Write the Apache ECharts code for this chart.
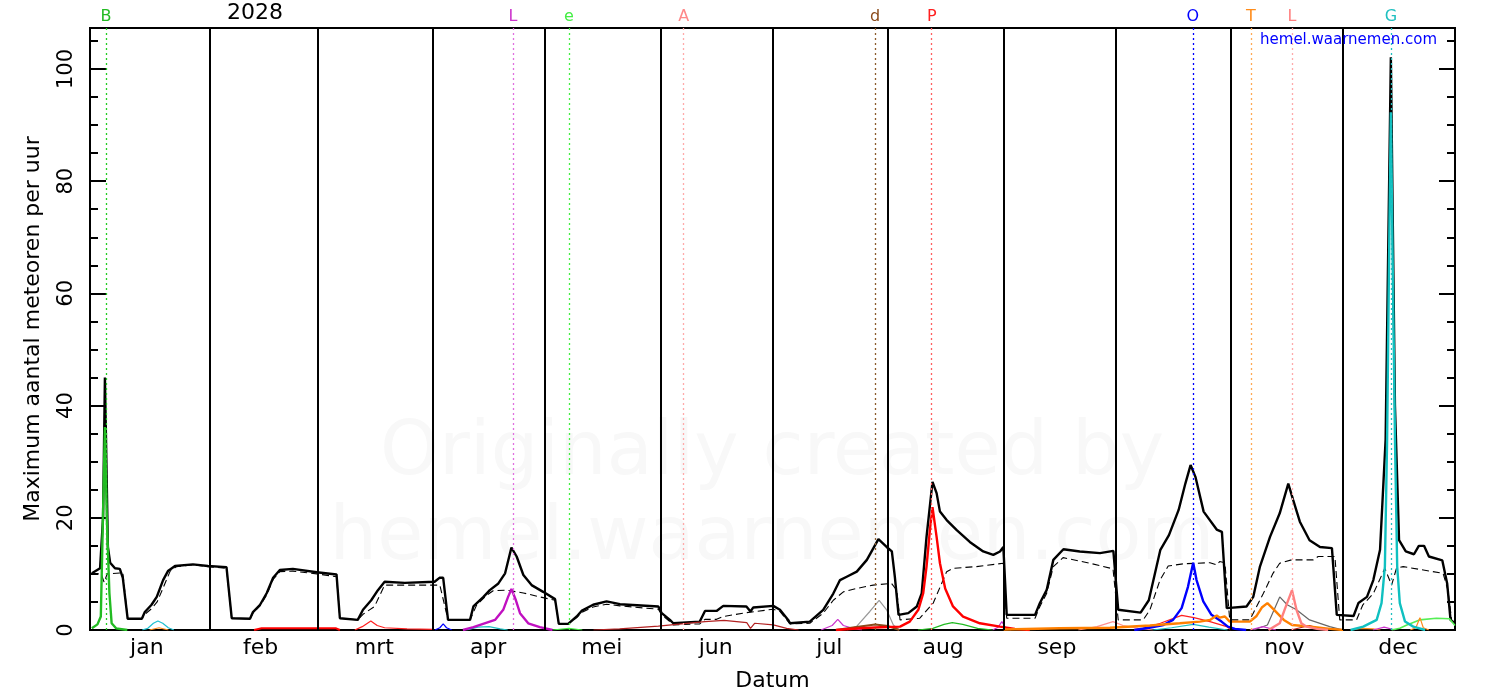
<!DOCTYPE html>
<html><head><meta charset="utf-8">
<script src="https://cdn.jsdelivr.net/npm/echarts/dist/echarts.min.js"></script>
<style>html,body{margin:0;padding:0;background:#fff}#c{width:1500px;height:700px}</style>
</head><body><div id="c"></div>
<script>
// ---------- DATA ----------
const yearLabel = '2028';
const months = ['jan','feb','mrt','apr','mei','jun','jul','aug','sep','okt','nov','dec'];
const monthStartDays = [32,61,92,122,153,183,214,245,275,306,336];
const markerLetters = ['B','L','e','A','d','P','O','T','L','G'];
const markerDays = [4.3,113.4,128.4,159.2,210.5,225.7,295.7,311.3,322.3,348.8];

// total maximum rate (solid black) [dayOfYear, rate]
const totalRate = [[0.5,10.1],[2.7,11],[3.5,20],[4,45],[4.8,14.8],[5.4,12],[6.7,11],[8,10.9],[8.8,9.3],[10.1,2.0],[13.9,2.0],[14.7,3.2],[16.5,4.5],[17.9,5.9],[19.6,8.9],[20.9,10.5],[22.8,11.4],[27.6,11.7],[31.6,11.4],[36.6,11.2],[38,2.1],[42.9,2.0],[43.7,3.2],[45.6,4.5],[47.4,6.6],[49.1,9.3],[50.9,10.7],[54.4,10.9],[60.8,10.3],[66.1,9.9],[67,2.1],[71.8,1.8],[73.2,3.6],[75.4,5.3],[77.2,7.1],[79,8.6],[84.4,8.4],[92.4,8.6],[93.7,9.3],[94.7,9.3],[96,1.8],[101.9,1.8],[102.8,4.2],[105.5,5.9],[107.2,7.1],[109.5,8.3],[111.3,10.1],[113,14.7],[114.4,13.1],[116.2,9.8],[118.4,8.0],[121.5,6.8],[124.7,5.5],[125.7,1.1],[128.2,1.1],[130.5,2.4],[131.8,3.4],[134.9,4.5],[138.5,5.1],[142.1,4.6],[152.4,4.2],[153.3,3.0],[155.5,1.8],[156.4,1.2],[163.5,1.5],[164.9,3.4],[168,3.4],[169.8,4.3],[176,4.2],[177.1,3.3],[177.8,4.0],[183.2,4.3],[185,3.6],[187.2,1.8],[187.7,1.2],[193,1.5],[196.6,3.6],[199.3,6.5],[201.1,8.9],[202.9,9.5],[205.6,10.4],[208.3,12.5],[211.4,16.2],[213.6,14.8],[215,14.0],[215.8,9.5],[216.8,2.7],[219.4,3.0],[221.7,4.2],[223,6.5],[224.3,16.6],[225.9,26.4],[227,24.4],[227.9,21.1],[229.7,19.6],[232.4,17.8],[235.9,15.7],[239.5,14.0],[242.2,13.4],[244,14.0],[244.9,14.8],[245.8,2.7],[253.4,2.7],[254.7,4.8],[256.5,7.1],[258.3,12.5],[261,14.4],[265.4,14.0],[270.8,13.7],[274.4,14.1],[275.7,3.6],[281.7,3.1],[283.9,5.3],[287,14.3],[289.3,16.9],[291.9,21.4],[293.7,26.1],[295.1,29.4],[296.4,27.3],[298.6,21.1],[302.1,17.9],[303.5,17.5],[304.8,3.9],[310.1,4.2],[311.9,5.9],[313.7,11.3],[316.4,16.6],[319,20.8],[321.3,26.1],[322.6,23.2],[324.4,19.3],[327,16.0],[329.8,14.8],[333,14.6],[334.3,2.7],[338.8,2.5],[340.1,4.8],[342.4,5.9],[344.1,8.9],[345.9,14.3],[347.4,34],[348.8,102.1],[349.9,40],[351,16.0],[352.8,14.0],[355,13.5],[356.3,15.0],[357.7,15.0],[359,13.1],[362.6,12.4],[363.9,8.3],[364.8,1.8],[366,1.2]];

// dashed black curve
const baseRate = [[0.5,10.0],[3,10.0],[3.8,8.5],[4.6,10.0],[8.8,10.2],[10.1,2.0],[13.9,2.0],[14.7,2.8],[16.5,3.8],[18,5.0],[19.6,7.5],[21.5,10.5],[23.2,11.3],[27.6,11.6],[31.6,11.3],[36.6,11.0],[38,2.1],[42.9,2.0],[43.7,3.0],[45.6,4.3],[47.4,6.3],[49.1,9.0],[50.9,10.4],[54.4,10.5],[60.8,10.0],[66.1,9.5],[67,2.1],[71.8,1.8],[73.2,2.8],[76.3,4.2],[79,8.0],[92.4,8.0],[93.8,8.0],[96,1.8],[101.9,1.8],[103.7,4.5],[106.4,6.2],[108.1,7.0],[111.7,7.1],[116.2,6.6],[120.6,5.9],[124.7,5.3],[125.7,1.1],[128.2,1.1],[130.5,2.2],[131.8,3.1],[134.9,4.1],[138.5,4.6],[142.1,4.3],[152.4,3.7],[153.3,2.7],[155.5,1.5],[156.4,0.9],[163.5,1.1],[164.9,1.9],[168,1.9],[169.8,2.4],[176.1,3.1],[183.2,3.7],[185,3.3],[187.2,1.5],[187.7,1.1],[193,1.2],[196.6,3.0],[199.3,5.3],[202,6.8],[205.5,7.4],[210,8.0],[214.9,8.3],[216.3,7.1],[217.2,1.8],[222.5,2.1],[226.1,4.8],[229.7,10.4],[231.4,11.0],[237.7,11.3],[244.9,11.9],[245.8,2.1],[253.4,2.1],[254.7,4.2],[256.5,6.5],[258.3,11.3],[260.9,12.9],[268.1,11.9],[274.3,10.9],[275.7,1.8],[282.4,1.8],[284.2,3.6],[286.9,8.9],[289.1,11.4],[293.1,11.8],[300.3,12.0],[302.1,11.6],[302.9,12.2],[304.3,12.0],[305.6,1.8],[311.0,1.8],[311.9,3.0],[314.6,6.5],[317.2,10.1],[319.0,11.9],[322.2,12.5],[328.0,12.5],[329.3,13.1],[333.8,13.1],[335.1,1.8],[339.6,1.8],[341.3,4.5],[344.1,6.5],[347.2,11.0],[348.1,9.5],[349.0,8.0],[350.3,11.0],[352.1,11.3],[362.8,10.1],[364.1,7.1],[365.1,1.8]];

// individual showers
const quadrantids = [[0.5,0.3],[2,1.0],[2.9,2.4],[3.6,24],[4.0,36.2],[4.5,20],[5.2,6.6],[5.8,1.2],[7,0.3],[10,0]];
const janCyan = [[14,0],[15.5,0.3],[17,1.2],[18.2,1.6],[19.5,1.2],[21,0.4],[22.5,0]];
const janOrange = [[16,0],[18.5,0.4],[21,0]];
const febRed = [[44,0],[46,0.3],[66,0.3],[67,0]];
const marRed = [[71,0],[73,0.6],[75.3,1.6],[77,0.8],[79,0.4],[85,0.2],[92,0.1]];
const aprBlue = [[92.5,0],[93.8,0.4],[94.7,1.1],[95.6,0.4],[97,0]];
const aprCyan = [[101,0],[104,0.5],[107,0.6],[110,0.2],[112,0]];
const lyrids = [[100,0],[102.8,0.5],[108.6,1.8],[110.8,3.6],[112.1,5.9],[113.0,7.3],[114.2,5.3],[115.3,3.0],[117.5,1.2],[120.6,0.5],[124,0]];
const etaAquariids = [[124,0],[128.4,0.3],[132,0]];
const ariDarkRed = [[135,0],[142,0.2],[152.4,0.7],[164.9,1.5],[170,1.7],[176.1,1.3],[177.1,0.3],[178.2,1.2],[183.2,0.9],[186.8,0.3],[190,0]];
const julMagenta = [[196,0],[199,0.8],[200.5,1.9],[202,0.8],[205,0.2],[207,0]];
const capricornids = [[203,0],[205.5,0.6],[209.1,3.3],[211.6,5.3],[213.6,3.6],[215.4,0.9],[217,0]];
const deltaAquariids = [[200,0],[205,0.5],[210.5,1.0],[214,0.7],[217,0]];
const perseids = [[200,0],[206.4,0.3],[212,0.5],[217.2,0.6],[219.8,1.5],[222.1,3.6],[223.4,6.5],[224.3,11.3],[225.2,17.8],[225.9,21.9],[227.0,16.6],[227.9,11.9],[229.3,7.4],[231.4,4.2],[234.1,2.4],[238.6,1.2],[244.0,0.6],[248,0.2],[252,0]];
const kappaCygnids = [[222,0],[226,0.3],[229,1.0],[231.2,1.3],[234,1.0],[238,0.3],[242,0]];
const sepMagenta = [[242,0],[243.5,0.5],[244.5,1.5],[245.5,0.4],[247,0]];
const octSalmon = [[265,0],[270,0.6],[274.3,1.5],[277,0.8],[281,0.3],[285,0]];
const octRed = [[280,0],[282.4,0.3],[287,1.2],[292.7,2.6],[296,2.2],[300.3,1.5],[304.8,0.6],[306,0]];
const orionids = [[280,0],[284,0.4],[287.8,0.9],[290.4,1.8],[292.7,3.9],[294.4,7.7],[295.8,12.0],[296.7,8.9],[298.5,5.1],[300.7,2.7],[303.4,1.5],[305.1,0.6],[307,0.2],[310,0]];
const octCyan = [[285,0],[290,0.4],[295.8,1.0],[300,0.5],[305,0]];
const taurids = [[245,0.1],[260,0.3],[273.5,0.4],[284.2,0.8],[292.2,1.2],[297.6,1.5],[300.3,1.8],[302.1,2.6],[302.9,2.2],[304.3,2.4],[305.6,1.5],[311.0,1.5],[312.8,2.5],[314.2,4.0],[315.7,4.8],[317.5,3.6],[320.1,1.8],[322.3,0.9],[327.3,0.6],[332.6,0.2],[336,0]];
const novGray = [[312,0],[315.7,0.9],[317.5,3.6],[319.0,5.9],[321,4.5],[323.5,3.6],[327.0,1.8],[332.4,0.6],[336,0]];
const leonids = [[316,0],[319,1.2],[320.3,3.6],[322.3,7.1],[323.5,3.6],[324.8,1.2],[326.2,0.6],[329,0.2],[332,0]];
const novMagenta = [[311,0],[314.5,0.6],[318,0]];
const novDarkRed = [[322,0],[327,0.8],[331,0]];
const geminids = [[338,0],[341.4,0.6],[345.0,1.8],[346.3,4.8],[347.2,11.3],[347.8,34],[348.3,65],[348.8,92.3],[349.3,65],[349.9,34],[350.5,11.3],[351.2,4.8],[352.6,1.5],[354.8,0.6],[358,0]];
const decGreen = [[349,0],[351.2,0.3],[353.1,0.9],[356.5,1.8],[361,2.1],[364.5,2.0],[366,0.8]];
const ursids = [[354,0],[355.5,0.4],[356.6,2.2],[357.5,0.4],[359,0]];
const decOrange = [[338,0],[341,0.3],[344,0.2],[346,0]];
const decMagenta = [[344,0],[347,0.5],[350,0]];

// ---------- STYLE ----------
const FONT = 'DejaVu Sans';
const markerColors = ['#22bb22','#cc33cc','#44ee44','#ff8888','#8b4a1a','#ff2020','#0000ff','#ff8c1a','#ff8080','#20c0c0'];
const markerLineColors = ['#22cc22','#e070e0','#44ee44','#ffaaaa','#8b5a2b','#ff6060','#0000ff','#ffaa55','#ffaaaa','#20c0c0'];

function ln(name, data, color, width, extra) {
  return Object.assign({
    name, type: 'line', xAxisIndex: 0, yAxisIndex: 0, data,
    showSymbol: false, symbol: 'none', silent: true, animation: false,
    lineStyle: { color, width }, itemStyle: { color }, z: 3
  }, extra || {});
}

const markData = [];
monthStartDays.forEach(d => markData.push({
  xAxis: d, lineStyle: { color: '#000', width: 2, type: 'solid' }, label: { show: false }
}));
markerDays.forEach((d, i) => markData.push({
  xAxis: d,
  lineStyle: { color: markerLineColors[i], width: 1.3, type: [2, 3] },
  label: { show: true, position: 'end', formatter: markerLetters[i], color: markerColors[i], fontSize: 16, fontFamily: FONT, distance: 3 }
}));

const series = [
  { type: 'line', data: [], silent: true, animation: false, z: 1,
    markLine: { symbol: ['none','none'], silent: true, animation: false,
      label: { fontSize: 16, fontFamily: FONT }, data: markData } },
  ln('totaal', totalRate, '#000', 2.4, { z: 2 }),
  ln('achtergrond', baseRate, '#000', 1, { z: 2, lineStyle: { color: '#000', width: 1.1, type: [7, 4] } }),
  ln('febRed', febRed, '#ff0000', 2),
  ln('marRed', marRed, '#ff2020', 1.2),
  ln('janOrange', janOrange, '#ff8c1a', 1.2),
  ln('janCyan', janCyan, '#20c0d0', 1.2),
  ln('aprBlue', aprBlue, '#0000ff', 1.2),
  ln('aprCyan', aprCyan, '#20c0c0', 1.2),
  ln('etaAquariids', etaAquariids, '#44ee44', 1.2),
  ln('ariDarkRed', ariDarkRed, '#b22222', 1.2),
  ln('julMagenta', julMagenta, '#cc33cc', 1.2),
  ln('capricornids', capricornids, '#999999', 1.2),
  ln('deltaAquariids', deltaAquariids, '#8b4a1a', 2),
  ln('kappaCygnids', kappaCygnids, '#22bb22', 1.2),
  ln('sepMagenta', sepMagenta, '#cc33cc', 1.2),
  ln('octSalmon', octSalmon, '#ff9090', 1.2),
  ln('octRed', octRed, '#ff2020', 1.2),
  ln('octCyan', octCyan, '#20c0c0', 1.2),
  ln('novGray', novGray, '#666666', 1.2),
  ln('novMagenta', novMagenta, '#cc33cc', 1.2),
  ln('novDarkRed', novDarkRed, '#b22222', 1.2),
  ln('decOrange', decOrange, '#ff8c1a', 1.2),
  ln('decMagenta', decMagenta, '#cc33cc', 1.2),
  ln('decGreen', decGreen, '#55ee55', 1.6),
  ln('ursids', ursids, '#ff8c1a', 1.2),
  ln('quadrantids', quadrantids, '#22bb22', 2.4),
  ln('lyrids', lyrids, '#c010c0', 2.4),
  ln('perseids', perseids, '#ff0000', 2.4),
  ln('orionids', orionids, '#0000ff', 2.4),
  ln('taurids', taurids, '#ff8000', 2.4),
  ln('leonids', leonids, '#ff8080', 2.4),
  ln('geminids', geminids, '#10c0c0', 2.4)
];

const Y_MAX = 107.3;
function yAx(pos, interval, len, withLabel) {
  return {
    type: 'value', min: 0, max: Y_MAX, interval, position: pos,
    axisLine: { show: false },
    axisTick: { show: true, inside: true, length: len, lineStyle: { color: '#000', width: 2 } },
    splitLine: { show: false },
    axisLabel: withLabel ? {
      show: true, rotate: 90, fontSize: 21, color: '#000', fontFamily: FONT, margin: 13,
      formatter: v => (Math.abs(v % 20) < 1e-9 ? String(v) : '')
    } : { show: false },
    name: withLabel ? 'Maximum aantal meteoren per uur' : '',
    nameLocation: 'middle', nameGap: 46,
    nameTextStyle: { fontSize: 22, color: '#000', fontFamily: FONT }
  };
}

const option = {
  backgroundColor: '#fff',
  animation: false,
  textStyle: { fontFamily: FONT },
  grid: { left: 90, right: 45, top: 28, bottom: 70, show: true, borderColor: '#000', borderWidth: 2, backgroundColor: 'transparent' },
  xAxis: [
    { type: 'value', min: 0, max: 366, show: false, position: 'bottom' },
    { type: 'category', data: months, boundaryGap: true, position: 'bottom',
      axisLine: { show: false }, axisTick: { show: false }, splitLine: { show: false },
      axisLabel: { fontSize: 22, color: '#000', fontFamily: FONT, margin: 7 },
      name: 'Datum', nameLocation: 'middle', nameGap: 40,
      nameTextStyle: { fontSize: 22, color: '#000', fontFamily: FONT } }
  ],
  yAxis: [
    yAx('left', 20, 16, true),
    yAx('left', 5, 8, false),
    yAx('right', 20, 16, false),
    yAx('right', 5, 8, false)
  ],
  graphic: [
    { type: 'text', left: 227, top: 2, z: 10, style: { text: yearLabel, fontSize: 22, fill: '#000', fontFamily: FONT } },
    { type: 'text', right: 63, top: 33, z: 10, style: { text: 'hemel.waarnemen.com', fontSize: 15, fill: '#0000ff', fontFamily: FONT } },
    { type: 'text', x: 772, y: 455, z: -5, style: { text: 'Originally created by', fontSize: 75, fill: '#f8f8f8', fontFamily: FONT, align: 'center', verticalAlign: 'middle' } },
    { type: 'text', x: 772, y: 540, z: -5, style: { text: 'hemel.waarnemen.com', fontSize: 75, fill: '#f8f8f8', fontFamily: FONT, align: 'center', verticalAlign: 'middle' } }
  ],
  series
};

const chart = echarts.init(document.getElementById('c'), null, { renderer: 'canvas' });
chart.setOption(option);
</script></body></html>
